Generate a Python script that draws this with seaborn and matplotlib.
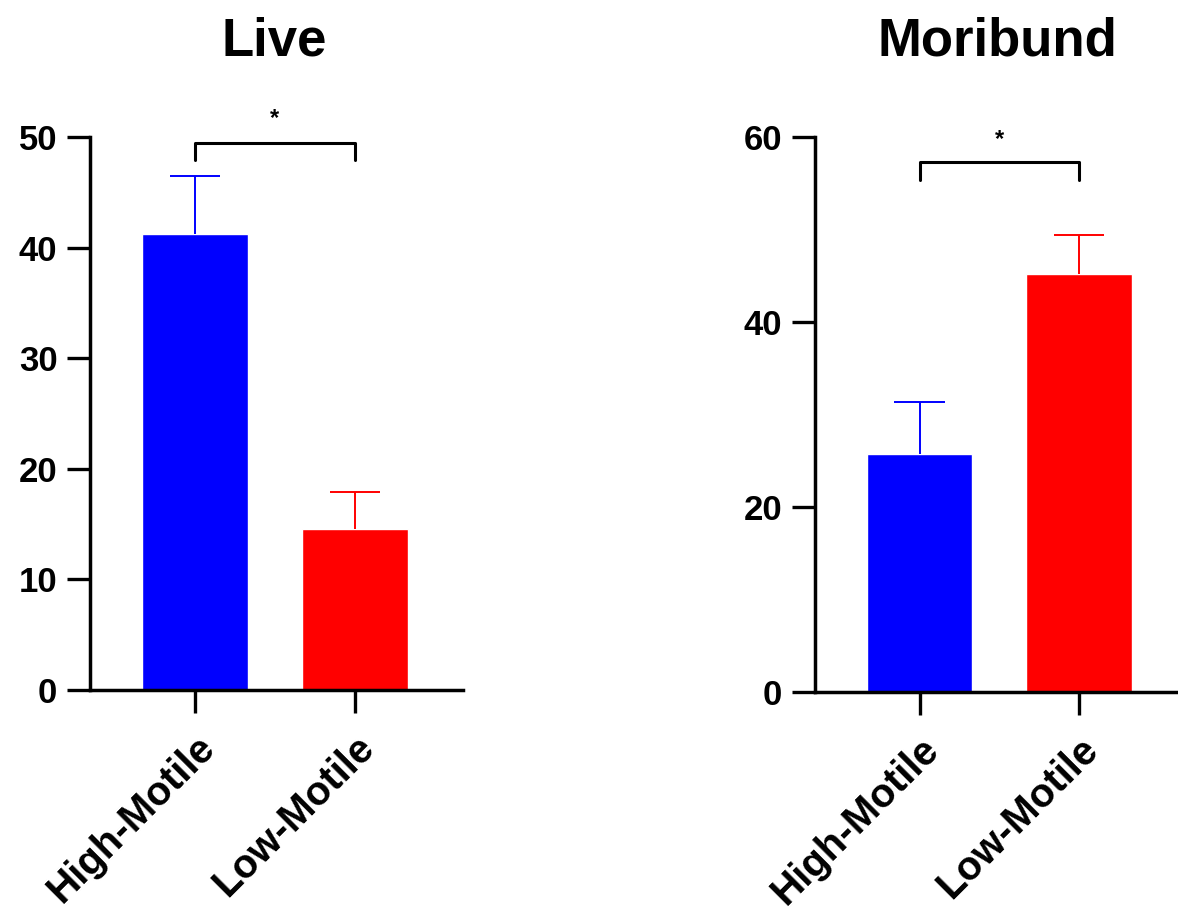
import matplotlib
matplotlib.use("Agg")
import matplotlib.pyplot as plt
import seaborn as sns
import pandas as pd
import numpy as np

categories = ["High-Motile", "Low-Motile"]
live_mean = [41.2, 14.6]
live_sem = [5.3, 3.3]
mori_mean = [25.7, 45.2]
mori_sem = [5.7, 4.2]
colors = ["#0000FF", "#FF0000"]

sns.set_theme(style="ticks")
plt.rcParams['font.family'] = ['Liberation Sans', 'DejaVu Sans']
plt.rcParams['text.color'] = 'black'

fig = plt.figure(figsize=(11.78, 9.11), dpi=100)
W, H = 1178, 911
axL = fig.add_axes([90 / W, 221 / H, (463 - 90) / W, (690 - 137) / H])
axR = fig.add_axes([815 / W, 219 / H, (1178 - 815) / W, (692 - 137) / H])


def panel(ax, means, sems, ymax, yticks, br_y, br_leg, star_y, xlim):
    df = pd.DataFrame({"group": categories, "value": means})
    sns.barplot(data=df, x="group", y="value", hue="group", palette=colors,
                width=0.66, errorbar=None, legend=False, ax=ax, saturation=1)
    x = np.arange(len(categories))
    for i in range(len(categories)):
        top = means[i] + sems[i]
        ax.vlines(x[i], means[i], top, color=colors[i], lw=1.4, zorder=1)
        ax.hlines(top, x[i] - 0.157, x[i] + 0.157, color=colors[i], lw=1.4, zorder=1)
    ax.plot([0, 0, 1, 1], [br_leg, br_y, br_y, br_leg], color="black", lw=2.2,
            clip_on=False)
    ax.text(0.5, star_y, "*", ha="center", va="center", fontsize=17,
            fontweight="bold", clip_on=False, color="black")
    ax.set_xlim(*xlim)
    ax.set_ylim(0, ymax)
    ax.set_yticks(yticks)
    ax.set_xlabel("")
    ax.set_ylabel("")
    for s in ["top", "right"]:
        ax.spines[s].set_visible(False)
    for s in ["left", "bottom"]:
        ax.spines[s].set_linewidth(2.5)
        ax.spines[s].set_color("black")
        ax.spines[s].set_capstyle("projecting")
    ax.tick_params(axis="both", direction="out", length=16.5, width=2.4,
                   colors="black", labelsize=25, pad=7)
    for lab in ax.get_yticklabels():
        lab.set_fontweight("bold")
    ax.set_xticks(x)
    ax.set_xticklabels(categories, rotation=45, ha="right", va="top",
                       rotation_mode="anchor", fontsize=29, fontweight="bold")
    ax.tick_params(axis="x", pad=11)


panel(axL, live_mean, live_sem, 50, [0, 10, 20, 30, 40, 50], 49.5, 47.9, 51.7,
      (-0.656, 1.675))
panel(axR, mori_mean, mori_sem, 60, [0, 20, 40, 60], 57.3, 55.35, 59.7,
      (-0.655, 1.62))

fig.text(274 / W, 1 - 41 / H, "Live", ha="center", va="center", fontsize=38,
         fontweight="bold", color="black")
fig.text(997.5 / W, 1 - 41 / H, "Moribund", ha="center", va="center", fontsize=38,
         fontweight="bold", color="black")

fig.savefig("out.png", dpi=100, facecolor="white")
